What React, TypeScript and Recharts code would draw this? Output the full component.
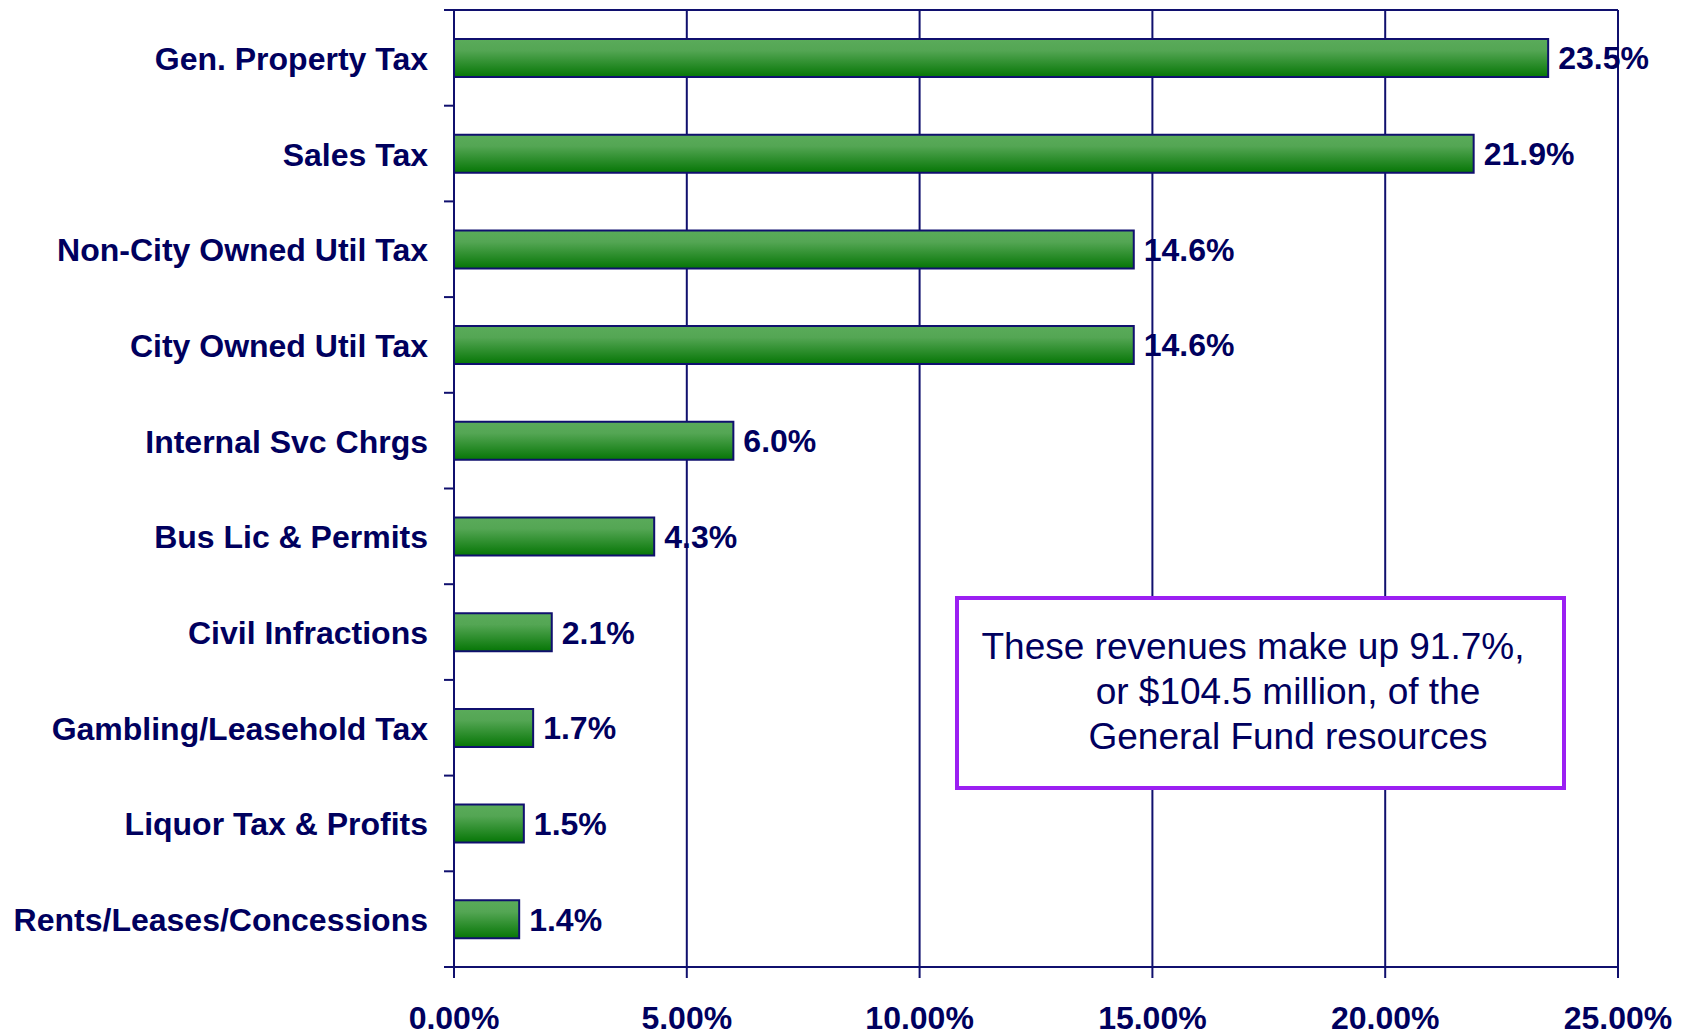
import { BarChart, Bar, XAxis, YAxis, CartesianGrid, LabelList } from "recharts";

const categories = [
  "Gen. Property Tax",
  "Sales Tax",
  "Non-City Owned Util Tax",
  "City Owned Util Tax",
  "Internal Svc Chrgs",
  "Bus Lic & Permits",
  "Civil Infractions",
  "Gambling/Leasehold Tax",
  "Liquor Tax & Profits",
  "Rents/Leases/Concessions",
];
const shares = [23.5, 21.9, 14.6, 14.6, 6.0, 4.3, 2.1, 1.7, 1.5, 1.4];
const xTicks = [0, 5, 10, 15, 20, 25];
const noteLines = [
  "These revenues make up 91.7%,",
  "or $104.5 million, of the",
  "General Fund resources",
];

const data = categories.map((name, i) => ({ name, value: shares[i] }));

const W = 1686;
const H = 1036;
const TOP = 10;
const BOTTOM = 69;
const LEFT = 454;
const RIGHT = 68;
const BAND = (H - TOP - BOTTOM) / categories.length;

const NAVY = "#00005e";
const LINE = "#10106e";
const FONT = "'Liberation Sans', Arial, sans-serif";

function CategoryTick(props: any) {
  const { x, y, payload, index } = props;
  const ax = LEFT;
  return (
    <g>
      <line x1={ax - 10} x2={ax} y1={y - BAND / 2} y2={y - BAND / 2} stroke={LINE} strokeWidth={2} />
      {index === categories.length - 1 && (
        <line x1={ax - 10} x2={ax} y1={y + BAND / 2} y2={y + BAND / 2} stroke={LINE} strokeWidth={2} />
      )}
      <text
        x={x - 18}
        y={y + 12}
        textAnchor="end"
        fill={NAVY}
        fontFamily={FONT}
        fontWeight="bold"
        fontSize={32}
      >
        {payload.value}
      </text>
    </g>
  );
}

function PercentTick(props: any) {
  const { x, payload } = props;
  return (
    <text
      x={x}
      y={1029}
      textAnchor="middle"
      fill={NAVY}
      fontFamily={FONT}
      fontWeight="bold"
      fontSize={32}
    >
      {`${payload.value.toFixed(2)}%`}
    </text>
  );
}

export default function App() {
  return (
    <div style={{ position: "absolute", left: 0, top: 0, width: W, height: H, background: "#fff" }}>
      <BarChart
        width={W}
        height={H}
        data={data}
        layout="vertical"
        margin={{ top: TOP, right: RIGHT, bottom: 0, left: 0 }}
      >
        <defs>
          <linearGradient id="barGreen" x1="0" y1="0" x2="0" y2="1">
            <stop offset="0%" stopColor="#5aab5a" />
            <stop offset="30%" stopColor="#54a654" />
            <stop offset="100%" stopColor="#067606" />
          </linearGradient>
        </defs>
        <CartesianGrid
          stroke={LINE}
          strokeWidth={2}
          horizontalCoordinatesGenerator={({ offset }: any) => [offset.top]}
        />
        <XAxis
          type="number"
          domain={[0, 25]}
          ticks={xTicks}
          height={BOTTOM}
          tickSize={11}
          axisLine={{ stroke: LINE, strokeWidth: 2 }}
          tickLine={{ stroke: LINE, strokeWidth: 2 }}
          tick={<PercentTick />}
          interval={0}
        />
        <YAxis
          type="category"
          dataKey="name"
          width={LEFT}
          axisLine={{ stroke: LINE, strokeWidth: 2 }}
          tickLine={false}
          tick={<CategoryTick />}
          interval={0}
        />
        <Bar
          dataKey="value"
          barSize={38}
          fill="url(#barGreen)"
          stroke={LINE}
          strokeWidth={2}
          isAnimationActive={false}
        >
          <LabelList
            dataKey="value"
            position="right"
            offset={10}
            formatter={(v: any) => `${Number(v).toFixed(1)}%`}
            fill={NAVY}
            fontFamily={FONT}
            fontWeight="bold"
            fontSize={32}
          />
        </Bar>
      </BarChart>
      <svg
        width={W}
        height={H}
        style={{ position: "absolute", left: 0, top: 0, pointerEvents: "none" }}
      >
        <rect x={957} y={598} width={607} height={190} fill="#fff" stroke="#9b1ff2" strokeWidth={4} />
        {noteLines.map((line, i) => (
          <text
            key={i}
            x={i === 0 ? 1253 : 1288}
            y={659 + i * 45}
            textAnchor="middle"
            fill={NAVY}
            fontFamily={FONT}
            fontSize={37}
          >
            {line}
          </text>
        ))}
      </svg>
    </div>
  );
}
